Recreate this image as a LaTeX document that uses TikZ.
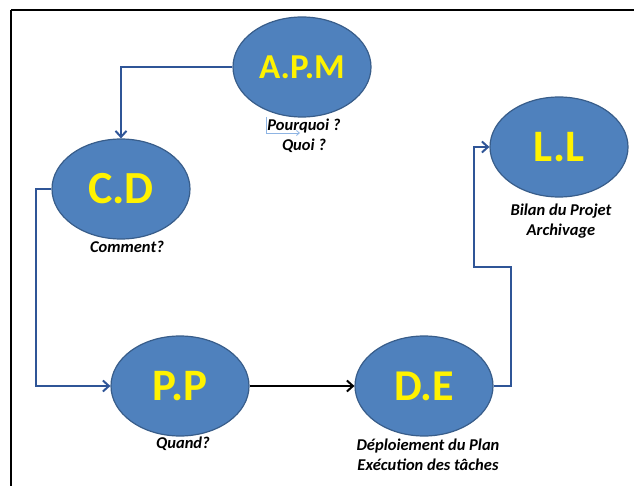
\documentclass[tikz,border=0pt]{standalone}
\usepackage{fontspec}
\setmainfont{Carlito}
\usetikzlibrary{arrows.meta}
\usetikzlibrary{shapes.geometric}
\definecolor{bfill}{HTML}{4F81BD}
\definecolor{bdraw}{HTML}{385D8A}
\definecolor{conn}{HTML}{2F5597}
\definecolor{lightc}{HTML}{8EB4E3}
\tikzset{
  phase/.style={ellipse, draw=bdraw, line width=1.2pt, fill=bfill, minimum width=138pt, minimum height=100pt, inner sep=0pt, text=yellow, font=\bfseries},
  lbl/.style={font=\bfseries\itshape\fontsize{16.5}{20}\selectfont, align=center, inner sep=0pt},
  bconn/.style={draw=conn, line width=2pt, -{Straight Barb[length=6pt,width=11pt,line width=2pt]}},
  kconn/.style={draw=black, line width=2pt, -{Straight Barb[length=6pt,width=11pt,line width=2pt]}}
}
\begin{document}
\begin{tikzpicture}[x=1pt,y=-1pt]
\useasboundingbox (0,0) rectangle (634,486);
\draw[line width=2pt] (11,10) -- (640,10);
\draw[line width=2pt] (11,10) -- (11,495);
\node[phase, font=\bfseries\fontsize{35}{35}\selectfont] (apm) at (302,67) {A.P.M};
\node[phase, font=\bfseries\fontsize{46}{46}\selectfont] (cd) at (121,189) {C.D};
\node[phase, font=\bfseries\fontsize{45}{45}\selectfont] (ll) at (559,147) {L.L};
\node[phase, font=\bfseries\fontsize{45}{45}\selectfont] (pp) at (180,386) {P.P};
\node[phase, font=\bfseries\fontsize{44}{44}\selectfont] (de) at (424,386) {D.E};
\node[lbl] (lapm) at (304,136) {Pourquoi ?\\Quoi ?};
\node[lbl] (lcd) at (127,247) {Comment?};
\node[lbl] (lll) at (561,221) {Bilan du Projet\\Archivage};
\node[lbl] (lpp) at (183,444) {Quand?};
\node[lbl] (lde) at (428,455) {Déploiement du Plan\\Exécution des tâches};
\coordinate (c1) at (121,67);
\coordinate (c2) at (36,189);
\coordinate (c3) at (36,386);
\coordinate (c4) at (511,386);
\coordinate (c5) at (511,267);
\coordinate (c6) at (474,267);
\coordinate (c7) at (474,147);
\draw[bconn] (apm.west) -- (c1) -- (cd.north);
\draw[bconn] (cd.west) -- (c2) -- (c3) -- (pp.west);
\draw[kconn] (pp.east) -- (de.west);
\draw[bconn] (de.east) -- (c4) -- (c5) -- (c6) -- (c7) -- (ll.west);
\coordinate (s1) at (266,117);
\coordinate (s2) at (266,133);
\coordinate (s3) at (300,133);
\draw[draw=lightc, line width=0.8pt, -{Straight Barb[length=3pt,width=5pt]}] (s1) -- (s2) -- (s3);
\end{tikzpicture}
\end{document}
